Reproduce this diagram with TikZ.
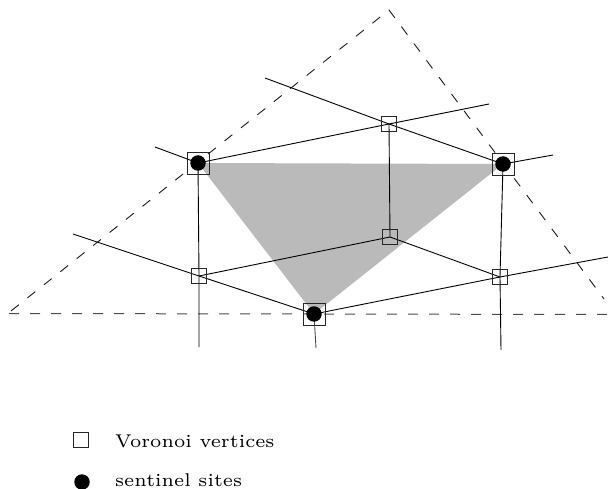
\documentclass[tikz,border=0pt]{standalone}
\definecolor{trigray}{gray}{0.73}
\font\legfont="[lmroman6-regular]:+tlig;" at 18.5pt
\tikzset{
  edge/.style={line width=0.9pt, black},
  hull/.style={dash pattern=on 10pt off 11pt, line width=0.9pt, black!90},
  hullh/.style={dash pattern=on 10pt off 11pt, line width=1pt, black!70},
  vsq/.style={draw=black!85, line width=0.9pt, minimum size=15.5pt, inner sep=0pt, outer sep=0pt},
  ssq/.style={draw=black!85, line width=0.9pt, minimum size=22pt, inner sep=0pt, outer sep=0pt},
  sdot/.style={circle, fill=black, minimum size=15.5pt, inner sep=0pt, outer sep=0pt},
  legtext/.style={anchor=base west, inner sep=0pt, font=\legfont},
}
\begin{document}
\begin{tikzpicture}[x=1pt,y=-1pt]
\useasboundingbox (0,0) rectangle (608,489);
% sentinel sites
\coordinate (A) at (198,163);
\coordinate (B) at (503,164);
\coordinate (C) at (314,314);
% Voronoi vertices
\coordinate (V1) at (389,124);
\coordinate (V2) at (390,237);
\coordinate (V3) at (199,276);
\coordinate (V4) at (500,277);
% free ends
\coordinate (t1) at (265,78);
\coordinate (t2) at (489,104);
\coordinate (t3) at (155,147);
\coordinate (t4) at (553,155);
\coordinate (t5) at (73,234);
\coordinate (t6) at (608,257);
\coordinate (b1) at (199,347);
\coordinate (b2) at (501,350);
\coordinate (b3) at (316,348);
% hull
\coordinate (lb) at (11,311);
\coordinate (apex) at (389,10);
\coordinate (rb) at (604,299);
\coordinate (hl) at (9,313.5);
\coordinate (hr) at (608,314.5);

\fill[trigray] (A) -- (B) -- (C) -- cycle;

\draw[hull] (lb) -- (apex) -- (rb);
\draw[hullh] (hl) -- (hr);

\draw[edge] (t1) -- (V1) -- (B);
\draw[edge] (A) -- (V1) -- (t2);
\draw[edge] (t3) -- (A);
\draw[edge] (B) -- (t4);
\draw[edge] (A) -- (V3) -- (b1);
\draw[edge] (V1) -- (V2);
\draw[edge] (V3) -- (V2) -- (V4);
\draw[edge] (t5) -- (V3) -- (C);
\draw[edge] (C) -- (V4) -- (t6);
\draw[edge] (B) -- (V4) -- (b2);
\draw[edge, black!70] (C) -- (b3);

\node[vsq] (V1sq) at (V1) {};
\node[vsq] (V2sq) at (V2) {};
\node[vsq] (V3sq) at (V3) {};
\node[vsq] (V4sq) at (V4) {};
\node[ssq] (Asq) at (A) {};
\node[ssq] (Bsq) at (B) {};
\node[ssq] (Csq) at (C) {};
\node[sdot] (Adot) at (A) {};
\node[sdot] (Bdot) at (B) {};
\node[sdot] (Cdot) at (C) {};

% legend
\node[vsq] (legsq) at (81,440) {};
\node[legtext] (legsqtext) at (115,447) {Voronoi vertices};
\node[sdot] (legdot) at (82,482) {};
\node[legtext] (legdottext) at (115,486) {sentinel sites};
\end{tikzpicture}
\end{document}
